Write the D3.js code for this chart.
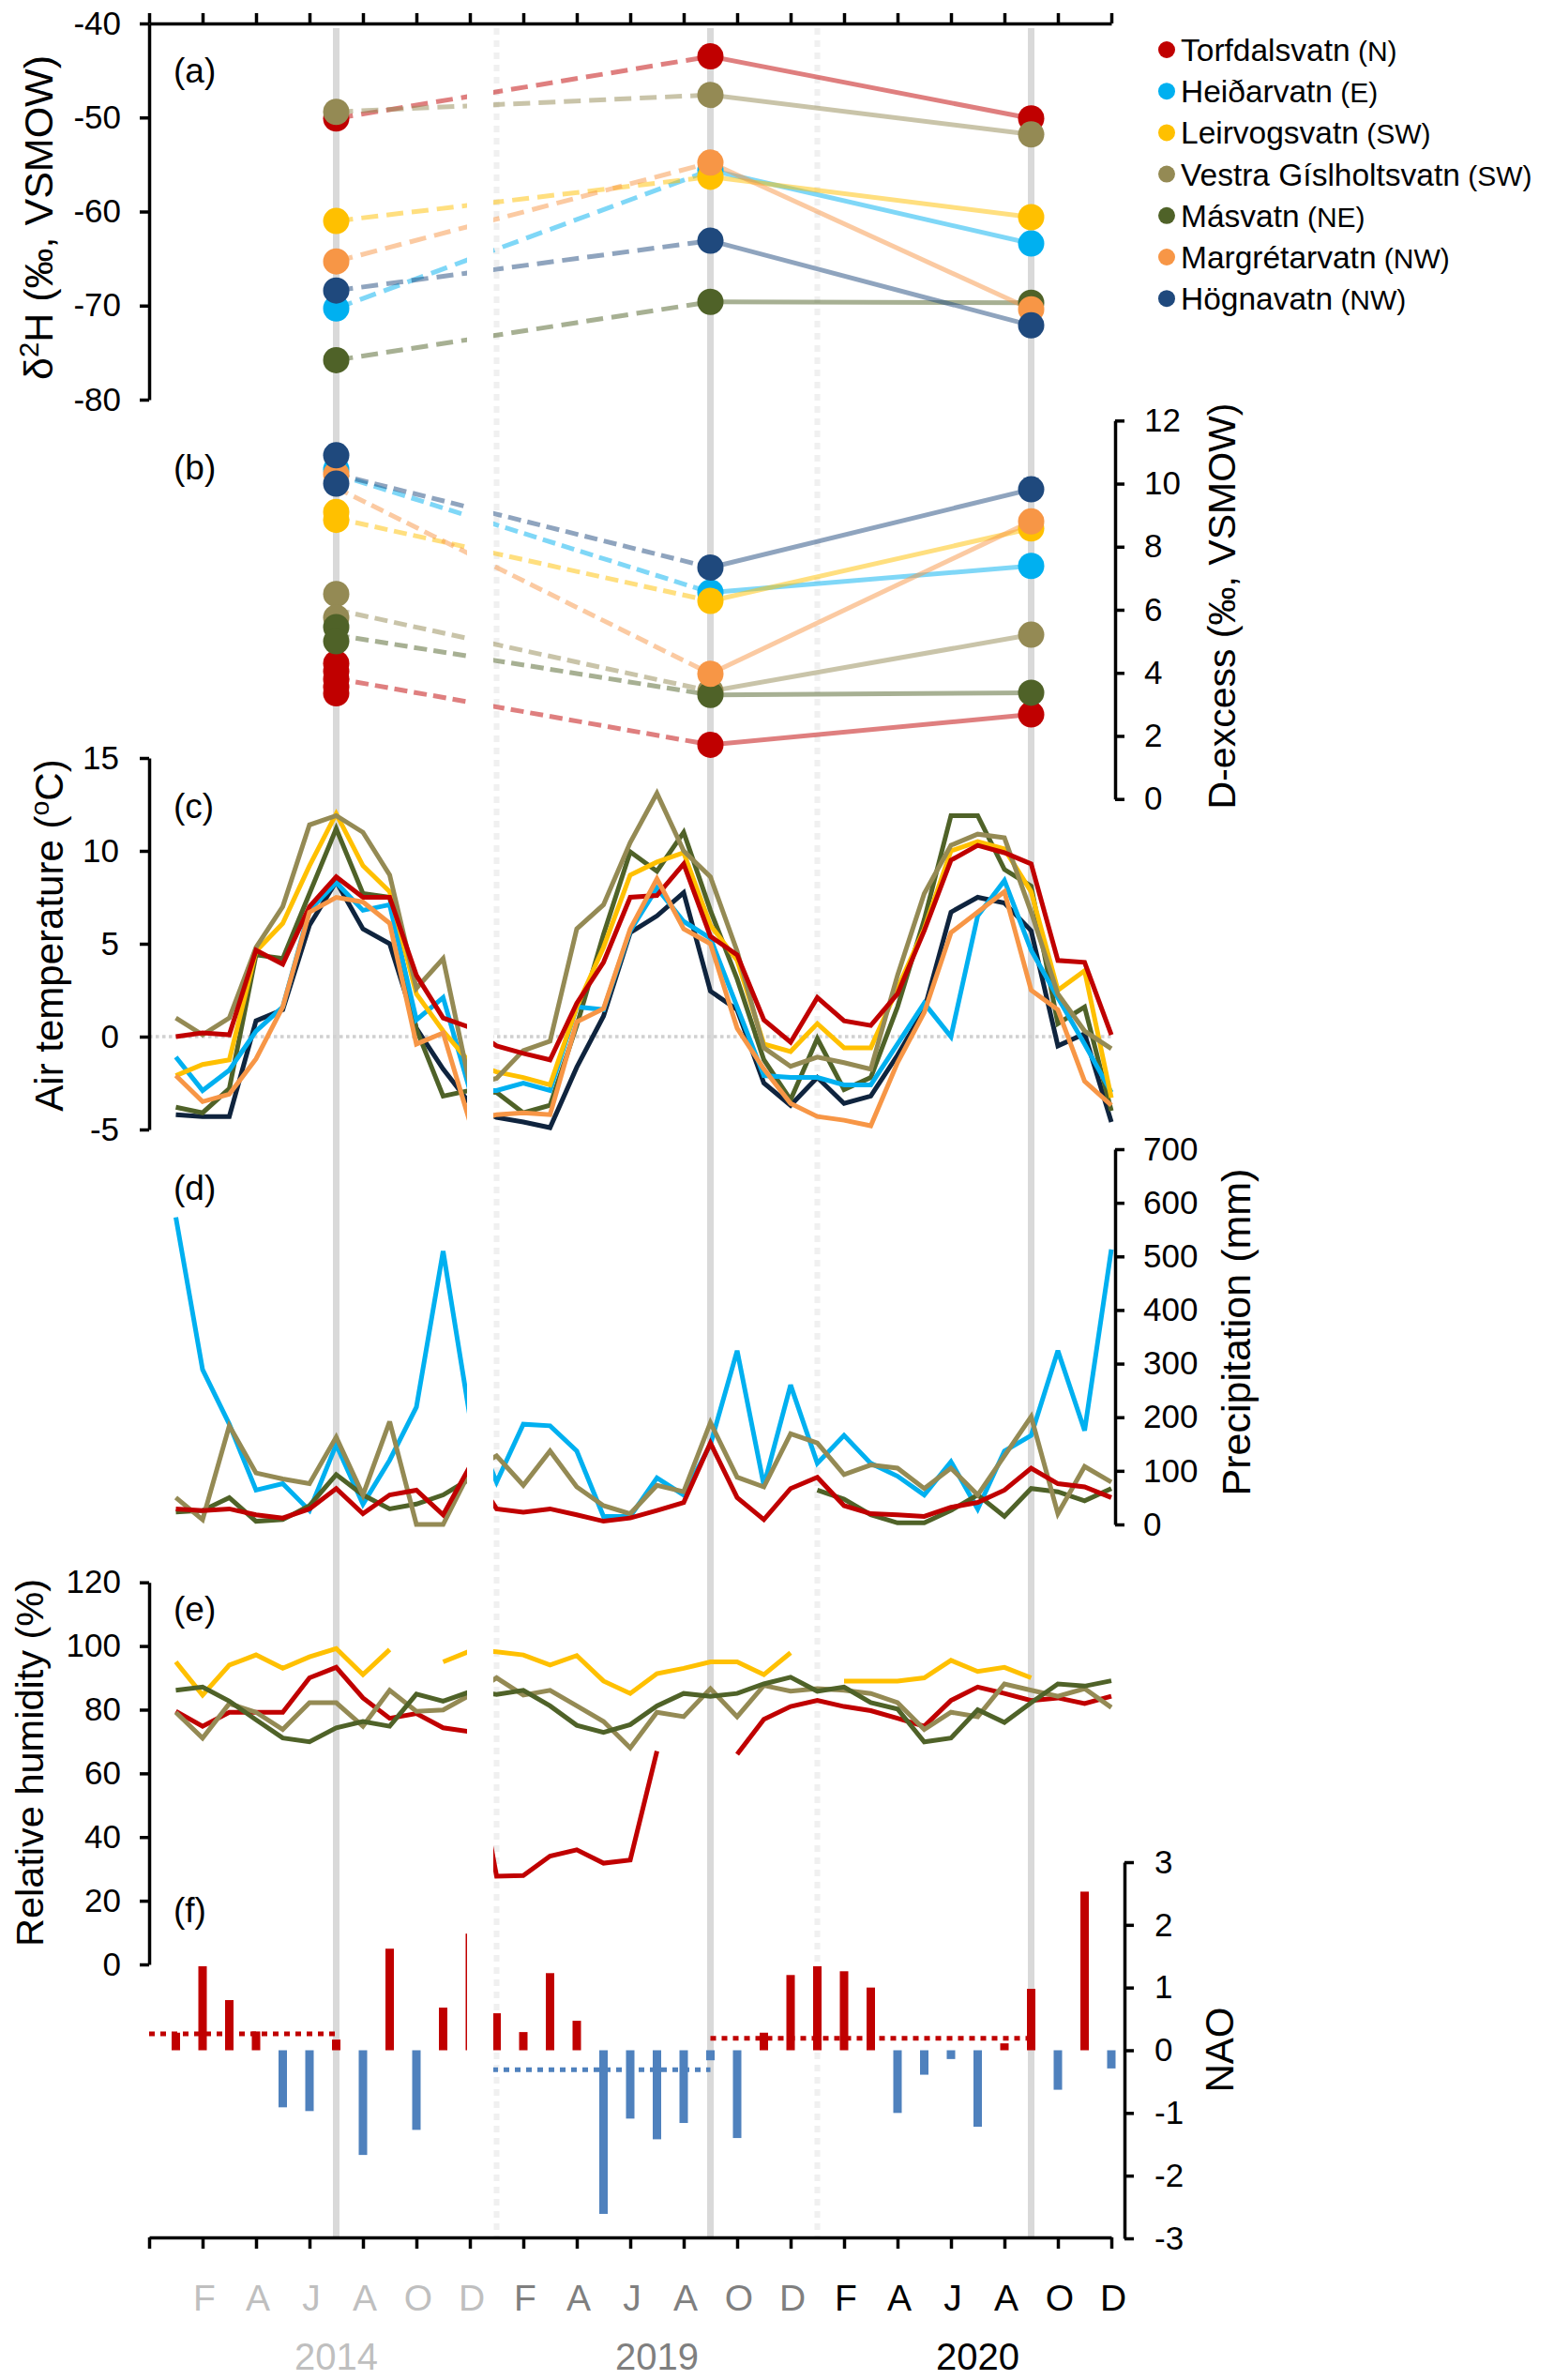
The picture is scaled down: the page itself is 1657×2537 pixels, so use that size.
<!DOCTYPE html>
<html><head><meta charset="utf-8">
<script src="https://cdn.jsdelivr.net/npm/d3@7"></script>
<style>
body{margin:0;background:#fff}
svg{display:block}
text{font-family:"Liberation Sans",Arial,Helvetica,sans-serif}
</style>
</head><body>
<svg id="chart" width="1657" height="2537"></svg>
<script>
// ---------------- DATA ----------------
const lakes = ["Torfdalsvatn","Heiðarvatn","Leirvogsvatn","Vestra Gíslholtsvatn","Másvatn","Margrétarvatn","Högnavatn"];
const regions = ["(N)","(E)","(SW)","(SW)","(NE)","(NW)","(NW)"];
const lakeColors = ["#c00000","#00b0f0","#ffc000","#948a54","#4f6228","#f79646","#1f497d"];
const tempColors = ["#c00000","#00b0f0","#ffc000","#948a54","#4f6228","#f79646","#0f243e"];

// sampling months (axis month number, Jan 2014 = 1) : Jul 2014, Sep 2019, Sep 2020
const sampleMonths = [7, 21, 33];

// (a) delta2H
const d2H2014 = [-50.1, -70.3, -61.0, -49.4, -75.8, -65.3, -68.4];
const d2H2019 = [-43.5, -55.6, -56.3, -47.6, -69.6, -54.8, -63.1];
const d2H2020 = [-50.1, -63.4, -60.6, -51.8, -69.7, -70.4, -72.1];

// (b) d-excess
const dex2014Samples = [[4.3,4.05,3.8,3.55,3.35],[10.45],[9.1,8.85],[6.5,5.75],[5.45,5.0],[10.3],[10.9,10.0]];
const dex2014Mean = [3.82, 10.3, 8.9, 6.0, 5.2, 9.87, 10.3];
const dex2019 = [1.72, 6.55, 6.28, 3.42, 3.3, 3.97, 7.34];
const dex2020 = [2.68, 7.39, 8.58, 5.21, 3.37, 8.8, 9.82];

// (c) air temperature, 36 months (2014, 2019, 2020)
const tempTorf = [0.0,0.2,0.1,4.65,3.9,7.0,8.6,7.5,7.5,3.3,1.0,0.5,
  -0.5,-0.9,-1.25,1.8,4.0,7.5,7.6,9.3,5.4,4.4,0.9,-0.3,
  2.1,0.85,0.6,2.3,5.7,9.5,10.3,9.9,9.3,4.1,4.0,0.1];
const tempHeid = [-1.1,-2.9,-1.8,0.3,1.6,6.8,8.3,6.8,7.1,0.9,2.1,-2.9,
  -2.9,-2.5,-2.9,1.6,1.45,5.7,8.0,6.2,5.3,1.6,-2.1,-2.2,
  -2.2,-2.6,-2.6,-0.4,1.8,0.0,6.5,8.4,4.65,2.1,-0.4,-3.0];
const tempLeir = [-2.1,-1.5,-1.25,4.6,6.1,9.2,12.0,9.2,7.8,2.3,0.3,-1.4,
  -1.9,-2.2,-2.6,1.6,4.8,8.7,9.4,9.9,6.0,4.1,-0.4,-0.8,
  0.7,-0.6,-0.6,2.6,5.8,10.0,10.5,10.1,7.8,2.5,3.55,-3.3];
const tempVest = [1.0,0.1,1.0,4.8,7.0,11.4,11.9,11.0,8.7,2.6,4.2,-2.6,
  -2.25,-0.75,-0.25,5.8,7.1,10.45,13.1,10.0,8.6,4.6,-0.6,-1.6,
  -1.1,-1.4,-1.75,3.3,7.7,10.3,10.9,10.7,6.7,2.3,0.3,-0.65];
const tempMas = [-3.8,-4.1,-2.8,4.4,4.2,7.7,11.2,7.7,7.5,0.4,-3.2,-2.9,
  -3.0,-4.1,-3.7,0.6,5.5,9.95,8.9,11.0,6.8,3.1,-1.25,-3.4,
  -0.1,-2.85,-2.2,1.6,6.3,11.9,11.9,9.0,8.1,0.7,1.6,-4.0];
const tempMarg = [-2.1,-3.5,-3.1,-1.2,1.6,6.7,7.5,7.25,6.1,-0.4,0.2,-4.6,
  -4.2,-4.1,-4.2,0.8,1.5,5.8,8.5,5.8,5.0,0.45,-1.75,-3.6,
  -4.3,-4.5,-4.8,-1.4,1.3,5.6,6.7,7.8,2.5,1.45,-2.4,-3.7];
const tempHogn = [-4.2,-4.3,-4.3,0.85,1.45,6.0,8.35,5.8,5.0,0.45,-1.75,-3.6,
  -4.35,-4.6,-4.9,-1.65,1.1,5.6,6.5,7.75,2.45,1.45,-2.5,-3.7,
  -2.2,-3.6,-3.2,-1.0,1.45,6.7,7.5,7.2,5.7,-0.5,0.15,-4.6];

// (d) precipitation (mm)
const precipBlue = [573,289,187,64,76,26,149,38,120,219,510,201,
  79,187,184,137,15,15,87,55,149,324,73,260,
  114,166,114,90,55,117,29,137,166,324,175,513];
const precipKhaki = [50,9,184,96,85,76,163,55,192,0,0,99,
  128,73,137,70,35,20,73,61,190,88,70,169,
  152,93,111,105,67,105,55,128,201,20,108,79];
const precipGreen = [23,26,50,6,9,35,93,55,29,38,55,85,
  null,null,null,null,null,null,null,null,null,null,null,null,
  64,47,18,3,3,26,55,15,67,61,44,67];
const precipRed = [29,26,29,18,12,29,67,20,55,64,18,108,
  29,23,29,18,6,12,26,41,152,50,9,67,
  88,35,20,18,15,32,41,64,105,76,70,50];

// (e) relative humidity (%)
const rhYellow = [95,84.6,94,97.2,93,96.6,99.2,91,98.9,null,95,98.4,
  98.2,97.2,94,97,89,85.1,91.3,93,95,95,91,97.9,
  null,89,89,89,90,95.5,92,93.3,90,null,null,null];
const rhRed = [79.5,74.8,79.2,79.2,79.2,90,93.3,83.7,77.3,78.8,74.3,73.1,
  27.7,27.9,34,36,31.8,32.8,67,null,null,66,77,81,
  82.9,81,79.7,77.3,74.8,82.9,87.1,85.1,82.9,83.7,81.9,84.2];
const rhKhaki = [79.2,71.1,81.9,79.2,73.8,82.2,82.2,74.8,86.1,79.5,79.9,84.6,
  90,84.6,86.1,81.2,76.3,68,79.2,77.8,86.6,77.8,87.6,85.8,
  86.6,86.1,85.1,82.2,73.8,79.2,77.8,88.1,86.1,84.2,86.6,80.7];
const rhGreen = [86.1,87.1,82.7,76.8,71.1,69.9,74.3,76.3,74.8,84.9,82.7,85.6,
  84.8,86.1,81.2,75.1,72.9,75.3,81.2,85.1,84.2,85.1,88.1,90.2,
  85.8,87.1,82.2,80.2,69.9,71.1,80.0,76.0,82.2,88.1,87.4,89.1];

// (f) NAO index
const nao = [0.28,1.34,0.8,0.3,-0.91,-0.97,0.17,-1.67,1.62,-1.27,0.68,1.86,
  0.59,0.29,1.23,0.47,-2.61,-1.09,-1.42,-1.16,-0.16,-1.40,0.28,1.2,
  1.34,1.26,1.0,-1.0,-0.39,-0.14,-1.22,0.11,0.98,-0.63,2.53,-0.29];
// mean NAO over preceding period: [startMonth, endMonth, value]
const naoMeans = [[0, 7, 0.26], [12, 21, -0.31], [21, 33, 0.19]];

// axis labels
const monthLetters = ["F","A","J","A","O","D"];
const years = ["2014","2019","2020"];
const yearColors = ["#bfbfbf","#7f7f7f","#000000"];

// ---------------- LAYOUT ----------------
const svg = d3.select("#chart");
const FONT = 35;
const x = d3.scaleLinear().domain([0, 36]).range([159, 1185]);
const yA = d3.scaleLinear().domain([-80, -40]).range([426, 25]);
const yB = d3.scaleLinear().domain([0, 12]).range([851.7, 448.3]);
const yC = d3.scaleLinear().domain([-5, 15]).range([1204, 808]);
const yD = d3.scaleLinear().domain([0, 700]).range([1625, 1225]);
const yE = d3.scaleLinear().domain([0, 120]).range([2094, 1686.7]);
const yF = d3.scaleLinear().domain([-3, 3]).range([2386, 1985]);
const axisBottomY = 2385, axisTopY = 25;

// clip: hide the gap between Dec 2014 and Jan 2019
const defs = svg.append("defs");
const cp = defs.append("clipPath").attr("id", "band");
cp.append("rect").attr("x", 0).attr("y", 0).attr("width", x(12) - 3).attr("height", 2537);
cp.append("rect").attr("x", x(13) - 3.5).attr("y", 0).attr("width", 1657).attr("height", 2537);

// background vertical lines
const bg = svg.append("g");
sampleMonths.forEach(m => {
  bg.append("line").attr("x1", x(m)).attr("x2", x(m)).attr("y1", 30).attr("y2", axisBottomY)
    .attr("stroke", "#d9d9d9").attr("stroke-width", 7);
});
[13, 25].forEach(m => {
  bg.append("line").attr("x1", x(m)).attr("x2", x(m)).attr("y1", 30).attr("y2", axisBottomY)
    .attr("stroke", "#f0f0f0").attr("stroke-width", 6).attr("stroke-dasharray", "7,6");
});

const data = svg.append("g").attr("clip-path", "url(#band)");

// ---------- (a) ----------
const ptLine = d3.line().x(d => x(d[0])).y(d => d[1]);
lakes.forEach((l, k) => {
  data.append("path").attr("d", ptLine([[sampleMonths[0], yA(d2H2014[k])], [sampleMonths[1], yA(d2H2019[k])]]))
    .attr("fill", "none").attr("stroke", lakeColors[k]).attr("stroke-opacity", 0.5)
    .attr("stroke-width", 5).attr("stroke-dasharray", "18,9");
  data.append("path").attr("d", ptLine([[sampleMonths[1], yA(d2H2019[k])], [sampleMonths[2], yA(d2H2020[k])]]))
    .attr("fill", "none").attr("stroke", lakeColors[k]).attr("stroke-opacity", 0.5).attr("stroke-width", 5);
});
const R = 14;
lakes.forEach((l, k) => {
  [d2H2014[k], d2H2019[k], d2H2020[k]].forEach((v, j) => {
    svg.append("circle").attr("cx", x(sampleMonths[j])).attr("cy", yA(v)).attr("r", R).attr("fill", lakeColors[k]);
  });
});

// ---------- (b) ----------
lakes.forEach((l, k) => {
  data.append("path").attr("d", ptLine([[sampleMonths[0], yB(dex2014Mean[k])], [sampleMonths[1], yB(dex2019[k])]]))
    .attr("fill", "none").attr("stroke", lakeColors[k]).attr("stroke-opacity", 0.5)
    .attr("stroke-width", 5).attr("stroke-dasharray", "14,7");
  data.append("path").attr("d", ptLine([[sampleMonths[1], yB(dex2019[k])], [sampleMonths[2], yB(dex2020[k])]]))
    .attr("fill", "none").attr("stroke", lakeColors[k]).attr("stroke-opacity", 0.5).attr("stroke-width", 5);
});
lakes.forEach((l, k) => {
  dex2014Samples[k].forEach(v => {
    svg.append("circle").attr("cx", x(sampleMonths[0])).attr("cy", yB(v)).attr("r", R).attr("fill", lakeColors[k]);
  });
  svg.append("circle").attr("cx", x(sampleMonths[1])).attr("cy", yB(dex2019[k])).attr("r", R).attr("fill", lakeColors[k]);
  svg.append("circle").attr("cx", x(sampleMonths[2])).attr("cy", yB(dex2020[k])).attr("r", R).attr("fill", lakeColors[k]);
});

// ---------- (c) ----------
data.append("line").attr("x1", x(0)).attr("x2", x(36)).attr("y1", yC(0)).attr("y2", yC(0))
  .attr("stroke", "#d0d0d0").attr("stroke-width", 3.5).attr("stroke-dasharray", "3.5,3.5");
function series(g, arr, y, color, w) {
  const ln = d3.line().defined(d => d != null).x((d, i) => x(i + 1)).y(d => y(d));
  g.append("path").attr("d", ln(arr)).attr("fill", "none").attr("stroke", color)
    .attr("stroke-width", w).attr("stroke-linejoin", "miter").attr("stroke-miterlimit", 3);
}
const temps = [tempTorf, tempHeid, tempLeir, tempVest, tempMas, tempMarg, tempHogn];
[6, 4, 1, 2, 3, 0, 5].forEach(k => series(data, temps[k], yC, tempColors[k], 5));

// ---------- (d) ----------
series(data, precipBlue, yD, "#00b0f0", 5);
series(data, precipGreen, yD, "#4f6228", 5);
series(data, precipKhaki, yD, "#948a54", 5);
series(data, precipRed, yD, "#c00000", 5);

// ---------- (e) ----------
series(data, rhYellow, yE, "#ffc000", 5);
series(data, rhRed, yE, "#c00000", 5);
series(data, rhKhaki, yE, "#948a54", 5);
series(data, rhGreen, yE, "#4f6228", 5);

// ---------- (f) ----------
const BW = 9;
nao.forEach((v, i) => {
  data.append("rect").attr("x", x(i + 1) - BW / 2).attr("width", BW)
    .attr("y", Math.min(yF(v), yF(0))).attr("height", Math.abs(yF(v) - yF(0)))
    .attr("fill", v >= 0 ? "#c00000" : "#4f81bd");
});
naoMeans.forEach(([a, b, v]) => {
  data.append("line").attr("x1", x(a)).attr("x2", x(b)).attr("y1", yF(v)).attr("y2", yF(v))
    .attr("stroke", v >= 0 ? "#c00000" : "#4f81bd").attr("stroke-width", 5).attr("stroke-dasharray", "6,6");
});

// ---------------- AXES ----------------
function styleAxis(g, fs) {
  g.select(".domain").attr("stroke", "#000").attr("stroke-width", 3.5);
  g.selectAll(".tick line").attr("stroke", "#000").attr("stroke-width", 3.5);
  g.selectAll(".tick text").attr("font-size", fs).attr("fill", "#000")
    .attr("font-family", '"Liberation Sans",Arial,sans-serif');
}
const fmt = d => String(d);
styleAxis(svg.append("g").attr("transform", `translate(${x(0)},0)`)
  .call(d3.axisLeft(yA).tickValues(d3.range(-80, -39, 10)).tickSize(10).tickSizeOuter(0).tickPadding(20).tickFormat(fmt)), FONT);
styleAxis(svg.append("g").attr("transform", `translate(1189,0)`)
  .call(d3.axisRight(yB).tickValues(d3.range(0, 13, 2)).tickSize(10).tickSizeOuter(0).tickPadding(21).tickFormat(fmt)), FONT);
styleAxis(svg.append("g").attr("transform", `translate(${x(0)},0)`)
  .call(d3.axisLeft(yC).tickValues(d3.range(-5, 16, 5)).tickSize(10).tickSizeOuter(0).tickPadding(22).tickFormat(fmt)), FONT);
styleAxis(svg.append("g").attr("transform", `translate(1189,0)`)
  .call(d3.axisRight(yD).tickValues(d3.range(0, 701, 100)).tickSize(10).tickSizeOuter(0).tickPadding(20).tickFormat(fmt)), FONT);
styleAxis(svg.append("g").attr("transform", `translate(${x(0)},0)`)
  .call(d3.axisLeft(yE).tickValues(d3.range(0, 121, 20)).tickSize(10).tickSizeOuter(0).tickPadding(20).tickFormat(fmt)), FONT);
styleAxis(svg.append("g").attr("transform", `translate(1199,0)`)
  .call(d3.axisRight(yF).tickValues(d3.range(-3, 4, 1)).tickSize(10).tickSizeOuter(0).tickPadding(22).tickFormat(fmt)), FONT);
styleAxis(svg.append("g").attr("transform", `translate(0,${axisTopY})`)
  .call(d3.axisTop(x).tickValues(d3.range(0, 37, 2)).tickSize(11).tickSizeOuter(0).tickFormat("")), FONT);
styleAxis(svg.append("g").attr("transform", `translate(0,${axisBottomY})`)
  .call(d3.axisBottom(x).tickValues(d3.range(0, 37, 2)).tickSize(12).tickSizeOuter(0).tickFormat("")), FONT);

// bottom month letters & years
years.forEach((yr, j) => {
  monthLetters.forEach((m, q) => {
    const tick = j * 12 + (q + 1) * 2;
    svg.append("text").attr("x", x(tick) + 2).attr("y", 2463).attr("text-anchor", "middle")
      .attr("font-size", 39).style("fill", yearColors[j]).text(m);
  });
  svg.append("text").attr("x", x(j * 12 + 7)).attr("y", 2526).attr("text-anchor", "middle")
    .attr("font-size", 40).style("fill", yearColors[j]).text(yr);
});

// ---------------- TITLES ----------------
function vtitle(cx, cy, parts, fs) {
  const t = svg.append("text").attr("transform", `translate(${cx},${cy}) rotate(-90)`)
    .attr("text-anchor", "middle").attr("font-size", fs).attr("dy", "0.36em").style("fill", "#000");
  parts.forEach(p => {
    const s = t.append("tspan").text(p.t);
    if (p.sup) s.attr("font-size", fs * 0.68).attr("dy", -fs * 0.36);
    if (p.after) s.attr("dy", fs * 0.36);
  });
}
vtitle(41, 232, [{t:"δ"},{t:"2",sup:true},{t:"H (‰, VSMOW)",after:true}], 43);
vtitle(1302, 646, [{t:"D-excess (‰, VSMOW)"}], 41);
vtitle(52, 997, [{t:"Air temperature ("},{t:"o",sup:true},{t:"C)",after:true}], 42);
vtitle(1318, 1420, [{t:"Precipitation (mm)"}], 43);
vtitle(31, 1879, [{t:"Relative humidity (%)"}], 41.5);
vtitle(1300, 2185, [{t:"NAO"}], 42);

// panel labels
const panelLabels = ["(a)","(b)","(c)","(d)","(e)","(f)"];
const panelY = [77, 500, 861, 1268, 1717, 2038];
panelLabels.forEach((p, k) => {
  svg.append("text").attr("x", 185).attr("y", panelY[k] + 11).attr("font-size", 37).style("fill", "#000").text(p);
});

// legend
lakes.forEach((l, k) => {
  const yy = 53 + k * 44.2;
  svg.append("circle").attr("cx", 1244).attr("cy", yy).attr("r", 9).attr("fill", lakeColors[k]);
  const t = svg.append("text").attr("x", 1259).attr("y", yy + 12).attr("font-size", 33.5).style("fill", "#000");
  t.append("tspan").text(l);
  t.append("tspan").attr("font-size", 30).text(" " + regions[k]);
});
</script>
</body></html>
